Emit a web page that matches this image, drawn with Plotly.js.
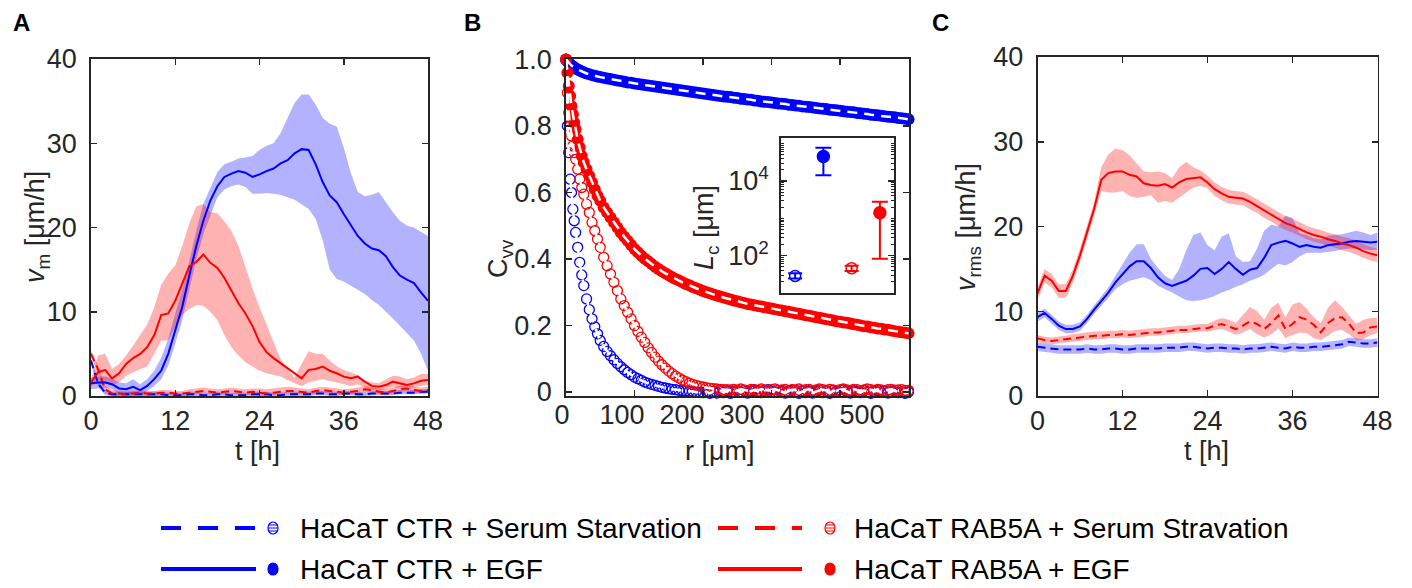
<!DOCTYPE html>
<html><head><meta charset="utf-8">
<script src="https://cdn.plot.ly/plotly-3.0.1.min.js"></script>
<style>html,body{margin:0;padding:0;background:#fff}#chart{width:1412px;height:588px}</style>
</head><body><div id="chart"></div>
<script>
// ---------------- DATA ----------------
const tHours = [0,1,2,3,4,5,6,7,8,9,10,11,12,13,14,15,16,17,18,19,20,21,22,23,24,25,26,27,28,29,30,31,32,33,34,35,36,37,38,39,40,41,42,43,44,45,46,47,48];
const tTicks = [0,12,24,36,48];
const vTicks = [0,10,20,30,40];

// Panel A: v_m
const aCtrEgf   = [1.5,1.6,1.6,1.4,0.9,0.8,1.1,0.7,1.2,2.0, 3.0,5.0,7.8,10.6,14.3,17.8,20.8,23.2,24.9,26.0, 26.4,26.7,26.5,26.0,26.3,26.7,27.0,27.6,28.0,28.8, 29.3,29.2,27.5,25.4,23.8,23.0,21.6,20.3,19.0,18.1, 17.5,17.3,16.6,15.3,14.3,13.8,13.4,12.3,11.3];
const aCtrEgfHi = [2.2,2.3,2.3,2.1,1.6,1.5,2.0,1.4,2.0,3.0, 4.5,6.8,9.8,12.6,16.0,19.6,22.8,24.8,26.6,27.5, 27.8,28.2,28.3,28.5,29.2,29.7,30.0,31.2,33.0,34.8, 35.8,35.8,34.6,33.0,32.3,32.0,29.5,26.5,24.2,23.7, 23.9,24.2,23.0,21.8,20.8,20.2,20.0,19.5,19.0];
const aCtrEgfLo = [0.8,0.9,1.0,0.8,0.3,0.2,0.4,0.2,0.6,1.2, 2.0,3.6,6.2,9.0,12.5,16.2,19.2,21.5,23.6,24.5, 24.9,25.1,24.8,24.0,24.0,24.1,24.0,23.9,23.6,23.3, 22.8,22.2,21.0,18.5,15.0,13.9,13.6,13.1,12.6,12.1, 11.4,10.8,10.0,9.2,8.3,7.5,6.6,5.0,3.0];
const aRabEgf   = [1.6,2.8,3.1,2.1,2.7,3.8,4.5,5.0,5.8,7.2, 9.6,9.8,11.3,13.3,15.4,15.9,16.8,15.8,15.2,14.0, 12.5,11.0,9.8,8.3,6.4,5.2,4.5,3.9,3.2,2.6, 2.1,3.1,3.2,3.5,3.0,2.7,2.3,2.1,2.3,1.7, 1.2,1.1,1.3,1.7,1.5,1.3,1.5,1.8,1.9];
const aRabEgfHi = [2.0,4.8,5.0,3.2,3.8,4.8,6.0,7.2,8.5,10.5, 13.2,14.5,15.5,17.8,20.5,22.5,22.8,21.8,21.7,20.7, 19.6,17.8,15.2,12.8,10.5,8.4,6.5,4.4,3.2,2.2, 3.8,5.3,5.0,5.0,4.2,3.5,3.1,2.8,2.5,1.8, 1.6,1.5,2.0,2.4,2.3,2.0,2.2,2.6,2.6];
const aRabEgfLo = [1.2,1.5,1.6,1.3,1.6,2.4,2.8,3.2,3.5,5.0, 6.6,6.6,8.2,9.6,10.3,10.8,10.7,10.0,9.0,7.2, 5.8,4.8,4.0,3.5,3.0,2.7,2.5,2.3,1.9,1.5, 1.2,1.6,1.8,2.0,1.8,1.6,1.4,1.2,1.4,1.0, 0.7,0.6,0.8,1.1,0.9,0.8,1.0,1.2,1.3];
const aRabSS    = [5.0,3.2,0.8,0.3,0.3,0.2,0.3,0.4,0.3,0.3, 0.4,0.4,0.3,0.3,0.4,0.5,0.6,0.5,0.4,0.5, 0.6,0.5,0.4,0.5,0.4,0.3,0.4,0.5,0.6,0.6, 0.5,0.4,0.6,0.7,0.6,0.5,0.4,0.5,0.6,0.8, 0.7,0.5,0.4,0.6,0.8,0.9,0.7,0.6,0.7];
const aRabSSHi  = [5.4,3.6,1.2,0.7,0.6,0.5,0.6,0.7,0.6,0.6, 0.7,0.7,0.6,0.6,0.8,0.9,1.0,0.9,0.8,0.9, 1.0,0.9,0.8,0.9,0.9,0.8,0.9,1.0,1.1,1.0, 0.9,0.8,1.0,1.1,1.0,0.9,0.8,0.9,1.0,1.2, 1.1,0.9,0.8,1.0,1.2,1.3,1.1,1.0,1.1];
const aRabSSLo  = [4.6,2.8,0.4,0.0,0.0,0.0,0.0,0.1,0.0,0.0, 0.1,0.1,0.0,0.0,0.1,0.2,0.3,0.2,0.1,0.2, 0.3,0.2,0.1,0.2,0.1,0.0,0.1,0.2,0.3,0.3, 0.2,0.1,0.3,0.4,0.3,0.2,0.1,0.2,0.3,0.5, 0.4,0.2,0.1,0.3,0.5,0.6,0.4,0.3,0.4];
const aCtrSS    = [4.2,1.5,0.4,0.2,0.2,0.2,0.2,0.2,0.2,0.2, 0.2,0.1,0.1,0.1,0.2,0.2,0.1,0.1,0.2,0.2, 0.1,0.1,0.1,0.2,0.2,0.2,0.1,0.1,0.2,0.2, 0.2,0.2,0.3,0.3,0.2,0.2,0.3,0.3,0.2,0.2, 0.3,0.3,0.3,0.3,0.4,0.4,0.4,0.5,0.5];
const aCtrSSHi  = [4.5,1.8,0.7,0.5,0.5,0.5,0.5,0.5,0.5,0.5, 0.5,0.4,0.4,0.4,0.5,0.5,0.4,0.4,0.5,0.5, 0.4,0.4,0.4,0.5,0.5,0.5,0.4,0.4,0.5,0.5, 0.5,0.5,0.6,0.6,0.5,0.5,0.6,0.6,0.5,0.5, 0.6,0.6,0.6,0.6,0.7,0.7,0.7,0.8,0.8];
const aCtrSSLo  = [3.9,1.2,0.1,0.0,0.0,0.0,0.0,0.0,0.0,0.0, 0.0,0.0,0.0,0.0,0.0,0.0,0.0,0.0,0.0,0.0, 0.0,0.0,0.0,0.0,0.0,0.0,0.0,0.0,0.0,0.0, 0.0,0.0,0.1,0.1,0.0,0.0,0.1,0.1,0.0,0.0, 0.1,0.1,0.1,0.1,0.2,0.2,0.2,0.3,0.3];

// Panel C: v_rms
const cRabEgf   = [12.1,14.2,13.6,12.4,12.4,14.2,16.6,19.3,22.1,25.5, 26.3,26.5,26.5,26.1,25.9,25.1,24.9,24.8,25.0,24.6, 25.2,25.6,25.7,25.8,25.2,24.4,23.9,23.5,23.4,23.3, 22.9,22.4,21.8,21.4,20.8,20.4,20.1,19.7,19.3,19.0, 18.8,18.5,18.3,18.0,17.8,17.5,17.1,16.8,16.6];
const cRabEgfHi = [12.8,15.0,14.4,13.2,13.2,15.0,17.4,20.1,22.9,27.0, 28.5,29.2,29.0,28.4,27.5,26.5,26.4,26.5,26.3,25.7, 27.0,27.6,27.0,26.6,26.0,25.2,24.7,24.3,24.2,24.1, 23.7,23.2,22.6,22.2,21.6,21.2,20.9,20.5,20.1,19.8, 19.6,19.3,19.1,18.8,18.6,18.3,17.9,17.6,17.4];
const cRabEgfLo = [11.4,13.4,12.8,11.6,11.6,13.4,15.8,18.5,21.3,24.2, 24.0,24.0,24.2,23.6,23.4,23.5,23.7,22.8,23.0,22.8, 23.4,24.0,24.6,24.8,24.5,23.6,23.1,22.7,22.6,22.5, 22.1,21.6,21.0,20.6,20.0,19.6,19.3,18.9,18.5,18.2, 18.0,17.7,17.5,17.2,17.0,16.7,16.3,16.0,15.8];
const cCtrEgf   = [9.3,9.8,9.1,8.3,7.9,7.9,8.2,9.1,10.2,11.2, 12.2,13.4,14.4,15.3,15.9,15.9,15.1,14.0,13.3,13.0, 13.3,13.6,14.2,15.0,15.1,14.4,15.0,15.8,15.0,14.3, 14.9,15.1,16.3,17.8,18.1,18.3,18.0,17.6,17.8,17.6, 17.5,17.8,17.9,18.0,18.2,18.3,18.2,18.1,18.2];
const cCtrEgfHi = [9.8,10.3,9.6,8.8,8.4,8.4,8.7,9.6,10.7,11.7, 12.8,14.2,15.6,16.9,17.9,17.9,16.2,15.1,14.2,13.7, 15.0,17.2,19.0,19.3,17.8,17.2,18.8,19.2,16.5,15.8, 15.9,17.4,19.5,20.2,20.0,21.3,21.0,19.2,19.0,18.6, 18.5,18.9,19.0,19.1,19.3,19.5,19.3,19.0,19.3];
const cCtrEgfLo = [8.8,9.3,8.6,7.8,7.4,7.4,7.7,8.6,9.7,10.7, 11.6,12.6,13.2,13.6,13.8,14.0,13.7,13.0,12.6,12.2, 11.8,11.3,11.2,11.3,11.5,11.8,12.2,12.5,12.9,13.2, 13.6,13.9,14.3,15.0,15.6,15.4,15.8,16.5,16.9,16.9, 16.9,17.0,17.1,17.3,17.4,17.4,17.3,17.2,17.3];
const cRabSS    = [6.8,6.6,6.5,6.6,6.7,6.8,6.9,7.0,7.1,7.1, 7.2,7.2,7.3,7.2,7.3,7.4,7.5,7.5,7.6,7.7, 7.8,7.8,7.9,8.0,8.0,8.3,8.5,8.2,7.9,8.3, 8.8,8.5,7.9,8.6,9.5,7.9,8.5,9.3,9.0,8.4, 7.5,8.6,9.2,9.3,8.5,7.4,7.5,8.1,8.2];
const cRabSSHi  = [7.2,7.0,6.9,7.0,7.1,7.3,7.4,7.5,7.6,7.6, 7.7,7.7,7.8,7.7,7.8,7.9,8.0,8.0,8.1,8.2, 8.3,8.3,8.4,8.5,8.5,8.9,9.2,9.0,8.6,9.5, 10.5,10.0,9.0,10.4,11.0,9.3,10.8,11.1,10.3,9.3, 8.6,10.4,11.3,10.5,9.5,8.5,9.0,9.2,9.2];
const cRabSSLo  = [6.4,6.2,6.1,6.2,6.3,6.4,6.5,6.6,6.7,6.7, 6.8,6.8,6.9,6.8,6.9,7.0,7.1,7.1,7.2,7.3, 7.4,7.4,7.5,7.6,7.6,7.8,7.9,7.6,7.2,7.5, 7.9,7.3,6.9,7.3,8.0,6.8,7.2,7.5,7.4,6.8, 6.6,7.1,7.7,7.8,7.3,6.6,6.7,7.2,7.4];
const cCtrSS    = [5.8,5.7,5.6,5.5,5.5,5.5,5.5,5.6,5.5,5.5, 5.6,5.6,5.5,5.5,5.6,5.6,5.6,5.6,5.7,5.7, 5.7,5.8,5.8,5.7,5.6,5.7,5.7,5.6,5.6,5.5, 5.6,5.6,5.7,5.8,5.7,5.6,5.8,5.7,5.7,5.8, 5.8,5.9,6.0,6.1,6.4,6.3,6.2,6.2,6.3];
const cCtrSSHi  = [6.3,6.2,6.1,6.0,6.0,6.0,6.0,6.1,6.0,6.0, 6.1,6.1,6.0,6.0,6.1,6.1,6.1,6.1,6.2,6.2, 6.2,6.3,6.3,6.2,6.1,6.2,6.2,6.1,6.1,6.0, 6.1,6.1,6.2,6.3,6.2,6.1,6.3,6.2,6.2,6.3, 6.3,6.4,6.5,6.6,6.9,6.8,6.7,6.7,6.8];
const cCtrSSLo  = [5.3,5.2,5.1,5.0,5.0,5.0,5.0,5.1,5.0,5.0, 5.1,5.1,5.0,5.0,5.1,5.1,5.1,5.1,5.2,5.2, 5.2,5.3,5.3,5.2,5.1,5.2,5.2,5.1,5.1,5.0, 5.1,5.1,5.2,5.3,5.2,5.1,5.3,5.2,5.2,5.3, 5.3,5.4,5.5,5.6,5.9,5.8,5.7,5.7,5.8];

// Panel B: C_vv(r)
const rB = [0,2,4,6,8,10,12,14,17,20,23,26,30,34,38,42,46,50,
  55,60,65,70,75,80,85,90,95,100,
  105,110,115,120,125,130,135,140,145,150, 155,160,165,170,175,180,185,190,195,200,
  205,210,215,220,225,230,235,240,245,250, 255,260,265,270,275,280,285,290,295,300,
  305,310,315,320,325,330,335,340,345,350, 355,360,365,370,375,380,385,390,395,400,
  405,410,415,420,425,430,435,440,445,450, 455,460,465,470,475,480,485,490,495,500];
const rTicks = [0,100,200,300,400,500];
const cvvTicks = [0,0.2,0.4,0.6,0.8,1.0];
const cvvTickText = ['0','0.2','0.4','0.6','0.8','1.0'];
const bCtrEgf = [1.0,0.995,0.99,0.986,0.982,0.979,0.976,0.973,0.97,0.967,0.964,0.961,0.958,0.956,0.953,0.951,0.949,0.947,
  0.945,0.943,0.941,0.939,0.937,0.935,0.933,0.931,0.93,0.928,
  0.926,0.925,0.923,0.922,0.92,0.919,0.917,0.916,0.914,0.913, 0.911,0.91,0.908,0.907,0.905,0.904,0.902,0.901,0.899,0.898,
  0.896,0.895,0.893,0.892,0.89,0.889,0.888,0.887,0.885,0.884, 0.882,0.881,0.88,0.879,0.877,0.876,0.874,0.873,0.872,0.871,
  0.869,0.868,0.867,0.866,0.864,0.863,0.862,0.861,0.859,0.858, 0.857,0.856,0.854,0.853,0.852,0.851,0.849,0.848,0.847,0.846,
  0.844,0.843,0.842,0.841,0.839,0.838,0.837,0.836,0.834,0.833, 0.832,0.831,0.829,0.828,0.827,0.826,0.824,0.823,0.822,0.82];
const bRabEgf = [1.0,0.96,0.92,0.89,0.86,0.835,0.81,0.79,0.76,0.735,0.71,0.69,0.67,0.65,0.63,0.61,0.59,0.575,
  0.555,0.54,0.525,0.51,0.495,0.48,0.467,0.455,0.442,0.43,
  0.42,0.41,0.401,0.393,0.385,0.377,0.37,0.363,0.357,0.351, 0.345,0.34,0.335,0.33,0.325,0.321,0.316,0.312,0.308,0.304,
  0.3,0.297,0.293,0.29,0.287,0.284,0.281,0.278,0.275,0.273, 0.27,0.268,0.265,0.263,0.261,0.259,0.257,0.255,0.253,0.251,
  0.249,0.247,0.245,0.243,0.241,0.239,0.237,0.235,0.233,0.231, 0.229,0.227,0.225,0.223,0.221,0.219,0.217,0.215,0.213,0.211,
  0.209,0.208,0.206,0.204,0.202,0.2,0.198,0.197,0.195,0.193, 0.191,0.19,0.188,0.187,0.185,0.183,0.181,0.18,0.178,0.177];
const bRabSS = [1.0,0.90,0.84,0.80,0.77,0.74,0.72,0.70,0.67,0.64,0.615,0.595,0.565,0.54,0.51,0.485,0.46,0.435,
  0.405,0.38,0.355,0.33,0.305,0.28,0.26,0.24,0.22,0.2,
  0.182,0.165,0.149,0.133,0.119,0.105,0.093,0.082,0.072,0.063, 0.055,0.048,0.042,0.036,0.031,0.027,0.023,0.02,0.017,0.015,
  0.013,0.011,0.01,0.009,0.008,0.007,0.007,0.006,
  0.008,0.005,0.009,0.006,0.004,0.008,0.007,0.005,0.009,0.006, 0.004,0.007,0.009,0.005,0.006,0.008,0.004,0.007,0.006,0.009,
  0.005,0.007,0.008,0.004,0.006,0.009,0.007,0.005,0.008,0.006, 0.004,0.007,0.009,0.006,0.005,0.008,0.007,0.004,0.006,0.009,
  0.007,0.005,0.008,0.006,0.004,0.007,0.008,0.005,0.006,0.007, 0.005,0.005];
const bCtrSS = [1.0,0.80,0.72,0.64,0.60,0.55,0.515,0.48,0.435,0.39,0.352,0.32,0.28,0.248,0.22,0.196,0.175,0.155,
  0.137,0.122,0.109,0.097,0.086,0.076,0.067,0.059,0.052,0.045,
  0.04,0.035,0.03,0.026,0.023,0.02,0.017,0.014,0.012,0.01, 0.008,0.007,0.005,0.004,0.003,0.002,0.001,0.0,-0.001,-0.002,
  0.001,-0.004,0.002,-0.003,0.004,-0.002,0.003,-0.004,0.002,0.005, -0.001,0.004,-0.003,0.003,0.006,0.001,-0.002,0.004,0.007,0.002,
  -0.001,0.005,0.002,-0.003,0.003,0.006,0.001,-0.004,0.002,-0.002, 0.003,-0.003,0.001,0.005,-0.002,0.002,-0.004,0.004,0.001,-0.001,
  0.006,0.002,-0.003,0.003,0.0,-0.002,0.005,0.001,-0.004,0.002, 0.004,-0.001,0.003,-0.003,0.002,0.005,-0.002,0.001,-0.004,0.0];

// Inset: correlation length L_c
const insetPos = [1,2,3,4];
const insetLc = [28.6, 45000, 46, 1410];
const insetErrPlus = [5.3, 33000, 8, 1380];
const insetErrMinus = [4.3, 30800, 7, 1327];
const insetTickVals = [100, 10000];
const insetTickText = ['10<sup>2</sup>','10<sup>4</sup>'];

const legendLabels = ['HaCaT CTR + Serum Starvation','HaCaT RAB5A + Serum Stravation','HaCaT CTR + EGF','HaCaT RAB5A + EGF'];

// ---------------- STYLE / LAYOUT ----------------
const FONT = 'Liberation Sans, Arial, Helvetica, sans-serif';
const INK = '#262626';
const BLUE = '#0000ff', RED = '#ff0000';
const BLUE_FILL = 'rgba(0,0,255,0.3)', RED_FILL = 'rgba(255,0,0,0.3)';
const W = 1412, H = 588;
const fx = p => p / W, fy = p => 1 - p / H;

function band(x, hi, lo, fill, xa, ya) {
  return {x: x.concat(x.slice().reverse()), y: hi.concat(lo.slice().reverse()),
    type:'scatter', mode:'lines', fill:'toself', fillcolor:fill, line:{width:0},
    xaxis:xa, yaxis:ya, hoverinfo:'skip', showlegend:false};
}
function line(x, y, color, dashed, xa, ya) {
  return {x, y, type:'scatter', mode:'lines', line:{color, width:2, dash: dashed ? '8px,5px' : 'solid'},
    xaxis:xa, yaxis:ya, hoverinfo:'skip', showlegend:false};
}
function bMarks(y, color, open) {
  return {x:rB, y, type:'scatter', mode:'markers', cliponaxis:false,
    marker:{symbol: open ? 'circle-open' : 'circle', size: open ? 10 : 12, color, line:{color, width: open ? 1.3 : 0}},
    xaxis:'x2', yaxis:'y2', hoverinfo:'skip', showlegend:false};
}
function bFit(y) {
  return {x:rB, y, type:'scatter', mode:'lines', cliponaxis:false, line:{color:'#ffffff', width:2.5, dash:'10px,7px'},
    xaxis:'x2', yaxis:'y2', hoverinfo:'skip', showlegend:false};
}

const traces = [
  band(tHours, aCtrEgfHi, aCtrEgfLo, BLUE_FILL, 'x', 'y'),
  band(tHours, aRabEgfHi, aRabEgfLo, RED_FILL, 'x', 'y'),
  band(tHours, aCtrSSHi, aCtrSSLo, BLUE_FILL, 'x', 'y'),
  band(tHours, aRabSSHi, aRabSSLo, RED_FILL, 'x', 'y'),
  line(tHours, aCtrSS, BLUE, true, 'x', 'y'),
  line(tHours, aRabSS, RED, true, 'x', 'y'),
  line(tHours, aCtrEgf, BLUE, false, 'x', 'y'),
  line(tHours, aRabEgf, RED, false, 'x', 'y'),

  band(tHours, cCtrEgfHi, cCtrEgfLo, BLUE_FILL, 'x4', 'y4'),
  band(tHours, cRabEgfHi, cRabEgfLo, RED_FILL, 'x4', 'y4'),
  band(tHours, cCtrSSHi, cCtrSSLo, BLUE_FILL, 'x4', 'y4'),
  band(tHours, cRabSSHi, cRabSSLo, RED_FILL, 'x4', 'y4'),
  line(tHours, cCtrSS, BLUE, true, 'x4', 'y4'),
  line(tHours, cRabSS, RED, true, 'x4', 'y4'),
  line(tHours, cCtrEgf, BLUE, false, 'x4', 'y4'),
  line(tHours, cRabEgf, RED, false, 'x4', 'y4'),

  bMarks(bCtrSS, BLUE, true),
  bMarks(bRabSS, RED, true),
  bMarks(bCtrEgf, BLUE, false),
  bMarks(bRabEgf, RED, false),
  bFit(bCtrSS), bFit(bRabSS), bFit(bCtrEgf), bFit(bRabEgf),
  {x:[], y:[], type:'scatter', mode:'markers', xaxis:'x5', yaxis:'y2', showlegend:false, hoverinfo:'skip'}
];

const insetColors = [BLUE, BLUE, RED, RED];
const insetOpen = [true, false, true, false];
insetPos.forEach((p, i) => {
  traces.push({x:[p], y:[insetLc[i]], type:'scatter', mode:'markers', cliponaxis:false,
    marker:{symbol: insetOpen[i] ? 'circle-open' : 'circle', size: insetOpen[i] ? 11 : 12, color: insetColors[i], line:{color: insetColors[i], width:1.5}},
    error_y:{type:'data', symmetric:false, array:[insetErrPlus[i]], arrayminus:[insetErrMinus[i]], color: insetColors[i], thickness:2, width: insetOpen[i] ? 7 : 8},
    xaxis:'x3', yaxis:'y3', hoverinfo:'skip', showlegend:false});
});

const tickFont = {family:FONT, size:27, color:INK};
function ax(extra) {
  return Object.assign({showgrid:false, zeroline:false, showline:true, linecolor:INK, linewidth:1.8,
    mirror:'ticks', ticks:'inside', ticklen:6, tickwidth:1.5, tickcolor:INK, tickfont:tickFont,
    ticklabelstandoff:7, fixedrange:true}, extra);
}

const layout = {
  width:W, height:H, margin:{l:0,r:0,t:0,b:0}, paper_bgcolor:'#fff', plot_bgcolor:'rgba(0,0,0,0)',
  showlegend:false, font:{family:FONT, color:INK},
  xaxis: ax({domain:[fx(91), fx(428)], anchor:'y', range:[0,48], tickmode:'array', tickvals:tTicks, ticklabelstandoff:0}),
  yaxis: ax({domain:[fy(396), fy(59)], anchor:'x', range:[0,40], tickmode:'array', tickvals:vTicks}),
  xaxis2: ax({domain:[fx(566), fx(909)], anchor:'y2', range:[0,500.7], tickmode:'array', tickvals:rTicks, showticklabels:false}),
  yaxis2: ax({domain:[fy(396), fy(59)], anchor:'x2', range:[-0.012,1.0015], tickmode:'array', tickvals:cvvTicks, ticktext:cvvTickText}),
  xaxis5: {domain:[fx(530), fx(909)], anchor:'y2', range:[(530-562)/0.6, (909-562)/0.6], tickmode:'array', tickvals:rTicks,
    showline:false, ticks:'', showgrid:false, zeroline:false, tickfont:tickFont, ticklabelstandoff:0, fixedrange:true},
  xaxis3: ax({domain:[fx(781), fx(894)], anchor:'y3', range:[0.5,4.5], ticks:'', showticklabels:false, mirror:true}),
  yaxis3: ax({domain:[fy(293), fy(138)], anchor:'x3', type:'log', range:[1.0,5.15], tickmode:'array', tickvals:insetTickVals, ticktext:insetTickText,
    mirror:'allticks', ticklabelstandoff:5, minor:{ticks:'inside', ticklen:3, tickcolor:INK, tickwidth:1, dtick:'D1'}}),
  xaxis4: ax({domain:[fx(1037.5), fx(1377.5)], anchor:'y4', range:[0,48], tickmode:'array', tickvals:tTicks, ticklabelstandoff:0}),
  yaxis4: ax({domain:[fy(396), fy(57)], anchor:'x4', range:[0,40], tickmode:'array', tickvals:vTicks}),
  annotations: [],
  shapes: []
};

const A = layout.annotations;
function note(text, x, y, opts) {
  A.push(Object.assign({text, xref:'paper', yref:'paper', x:fx(x), y:fy(y), showarrow:false,
    xanchor:'center', yanchor:'middle', font:{family:FONT, size:27, color:INK}}, opts || {}));
}
note('<b>A</b>', 11, 22, {xanchor:'left', font:{family:FONT, size:24, color:'#000'}});
note('<b>B</b>', 462, 22, {xanchor:'left', font:{family:FONT, size:24, color:'#000'}});
note('<b>C</b>', 930, 22, {xanchor:'left', font:{family:FONT, size:24, color:'#000'}});
note('t [h]', 257, 451);
note('r [μm]', 720, 451);
note('t [h]', 1206, 451);
note('<i>v</i><sub>m</sub> [μm/h]', 37, 227, {textangle:-90});
note('<i>v</i><sub>rms</sub> [μm/h]', 968, 227, {textangle:-90});
note('C<sub>vv</sub>', 500, 258, {textangle:-90});
note('<i>L</i><sub>c</sub> [μm]', 706, 228, {textangle:-90});

// legend (two columns, two rows)
const S = layout.shapes;
const legendRows = [528, 528, 569, 569];
const legendCols = [0, 1, 0, 1];
const legendColors = [BLUE, RED, BLUE, RED];
const legendDashed = [true, true, false, false];
const legendOpen = [true, true, false, false];
const colX = [{l0:161, l1:256, m:273, t:298}, {l0:718, l1:802, m:830, t:852}];
legendLabels.forEach((lab, i) => {
  const c = colX[legendCols[i]], y = legendRows[i], col = legendColors[i];
  S.push({type:'line', xref:'paper', yref:'paper', x0:fx(c.l0), x1:fx(c.l1), y0:fy(y), y1:fy(y),
    line:{color:col, width:4, dash: legendDashed[i] ? '20px,17px' : 'solid'}});
  S.push({type:'circle', xref:'paper', yref:'paper', x0:fx(c.m-5), x1:fx(c.m+5), y0:fy(y+6), y1:fy(y-6),
    line:{color:col, width:1.2}, fillcolor: legendOpen[i] ? '#ffffff' : col});
  if (legendOpen[i]) {
    [-3, 0, 3].forEach(d => S.push({type:'line', xref:'paper', yref:'paper', x0:fx(c.m-4.5), x1:fx(c.m+4.5), y0:fy(y+d), y1:fy(y+d), line:{color:col, width:1}}));
  }
  note(lab, c.t, y, {xanchor:'left', font:{family:FONT, size:28, color:'#000'}});
});

Plotly.newPlot('chart', traces, layout, {displayModeBar:false, staticPlot:true});
</script></body></html>
